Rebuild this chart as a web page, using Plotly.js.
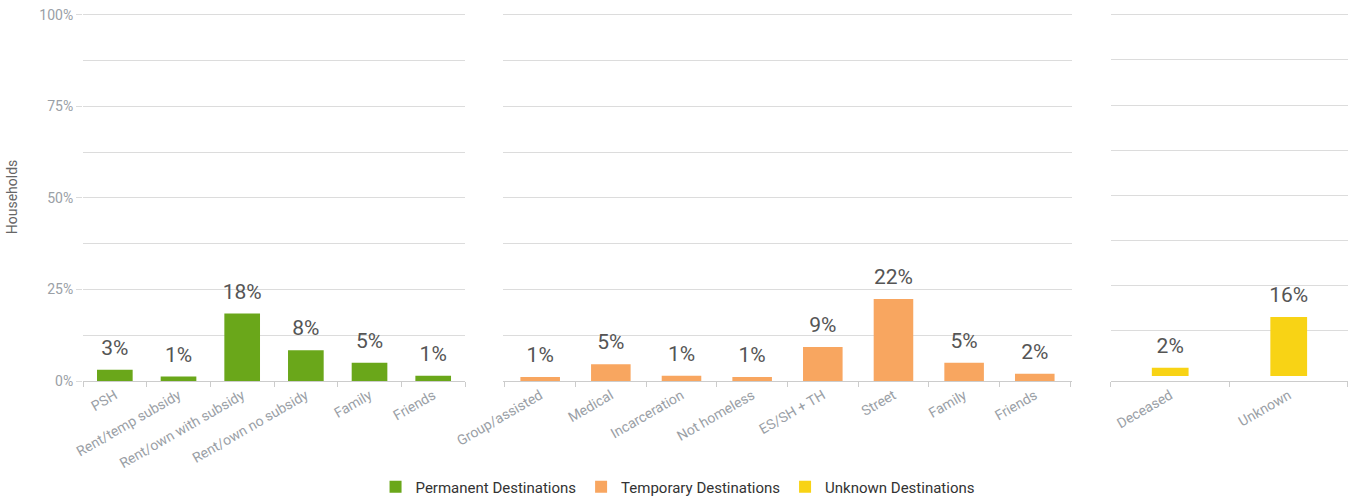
<!DOCTYPE html>
<html><head><meta charset="utf-8">
<script src="https://cdn.plot.ly/plotly-3.0.1.min.js"></script>
<style>html,body{margin:0;padding:0;background:#fff}#chart{width:1352px;height:500px}</style>
</head><body><div id="chart"></div>
<script>
const permCats = ["PSH", "Rent/temp subsidy", "Rent/own with subsidy", "Rent/own no subsidy", "Family", "Friends"];
const permVals = [3.1, 1.2, 18.4, 8.4, 5.0, 1.4];
const tempCats = ["Group/assisted", "Medical", "Incarceration", "Not homeless", "ES/SH + TH", "Street", "Family", "Friends"];
const tempVals = [1.1, 4.6, 1.4, 1.1, 9.3, 22.4, 5.0, 2.0];
const unkCats = ["Deceased", "Unknown"];
const unkVals = [2.3, 16.3];
const seriesNames = ["Permanent Destinations", "Temporary Destinations", "Unknown Destinations"];
const colors = ["#6aa71a", "#f8a660", "#f8d315"];
const yTicks = [0, 25, 50, 75, 100];
const yTickText = ["0%", "25%", "50%", "75%", "100%"];

const font = "Roboto, 'Noto Sans', Arial, sans-serif";
const groups = [
  {cats: permCats, vals: permVals, x: "x", y: "y", w: 0.56},
  {cats: tempCats, vals: tempVals, x: "x2", y: "y2", w: 0.56},
  {cats: unkCats, vals: unkVals, x: "x3", y: "y3", w: 0.31}
];
const data = [];
groups.forEach((g, i) => {
  data.push({type: "bar", name: seriesNames[i], x: g.cats, y: g.vals, xaxis: g.x, yaxis: g.y,
    width: g.w, marker: {color: colors[i]}, hoverinfo: "x+y"});
});
groups.forEach((g, i) => {
  data.push({type: "scatter", mode: "markers+text", x: g.cats, y: g.vals, xaxis: g.x, yaxis: g.y,
    text: g.vals.map(v => Math.round(v) + "%"), textposition: "top center",
    textfont: {family: font, size: 21, color: "#555"}, marker: {size: 14, opacity: 0},
    showlegend: false, hoverinfo: "skip", cliponaxis: false});
});

const grid = "#dcdcdc";
function xa(domain) {
  return {domain: domain, type: "category", showgrid: false, showline: true, linecolor: "#cccccc",
    ticks: "outside", tickson: "boundaries", ticklen: 5, tickcolor: "#cccccc", tickangle: -30,
    tickfont: {family: font, size: 14, color: "#9aa0a6"}, zeroline: false, fixedrange: true, automargin: false};
}
function ya(domain, labels) {
  return {domain: domain, range: [0, 100.5], tickmode: "array", tickvals: yTicks, ticktext: yTickText,
    showticklabels: labels, ticks: labels ? "outside" : "", ticklen: 6, tickcolor: grid,
    gridcolor: grid, gridwidth: 1, zeroline: false, automargin: false,
    minor: {tickmode: "linear", tick0: 0, dtick: 12.5, showgrid: true, gridcolor: grid, gridwidth: 1, ticks: ""},
    tickfont: {family: font, size: 14, color: "#9aa0a6"}, fixedrange: true};
}
const layout = {
  width: 1352, height: 500,
  margin: {l: 83, r: 4, t: 13, b: 119, autoexpand: false},
  paper_bgcolor: "#fff", plot_bgcolor: "#fff",
  font: {family: font},
  showlegend: true,
  legend: {orientation: "h", x: 0.47, xanchor: "center", y: -0.243, yanchor: "top",
    font: {family: font, size: 15, color: "#333"}, itemwidth: 30, traceorder: "normal"},
  xaxis: xa([0, 0.302]),
  xaxis2: xa([0.332, 0.7818]),
  xaxis3: xa([0.8126, 1]),
  yaxis: Object.assign(ya([0, 1], true), {title: {text: "Households", font: {family: font, size: 14, color: "#666"}, standoff: 18}}),
  yaxis2: ya([0, 1], false),
  yaxis3: ya([0.0136, 1], false),
  bargap: 0.44
};
Plotly.newPlot("chart", data, layout, {displayModeBar: false, staticPlot: true});
</script></body></html>
